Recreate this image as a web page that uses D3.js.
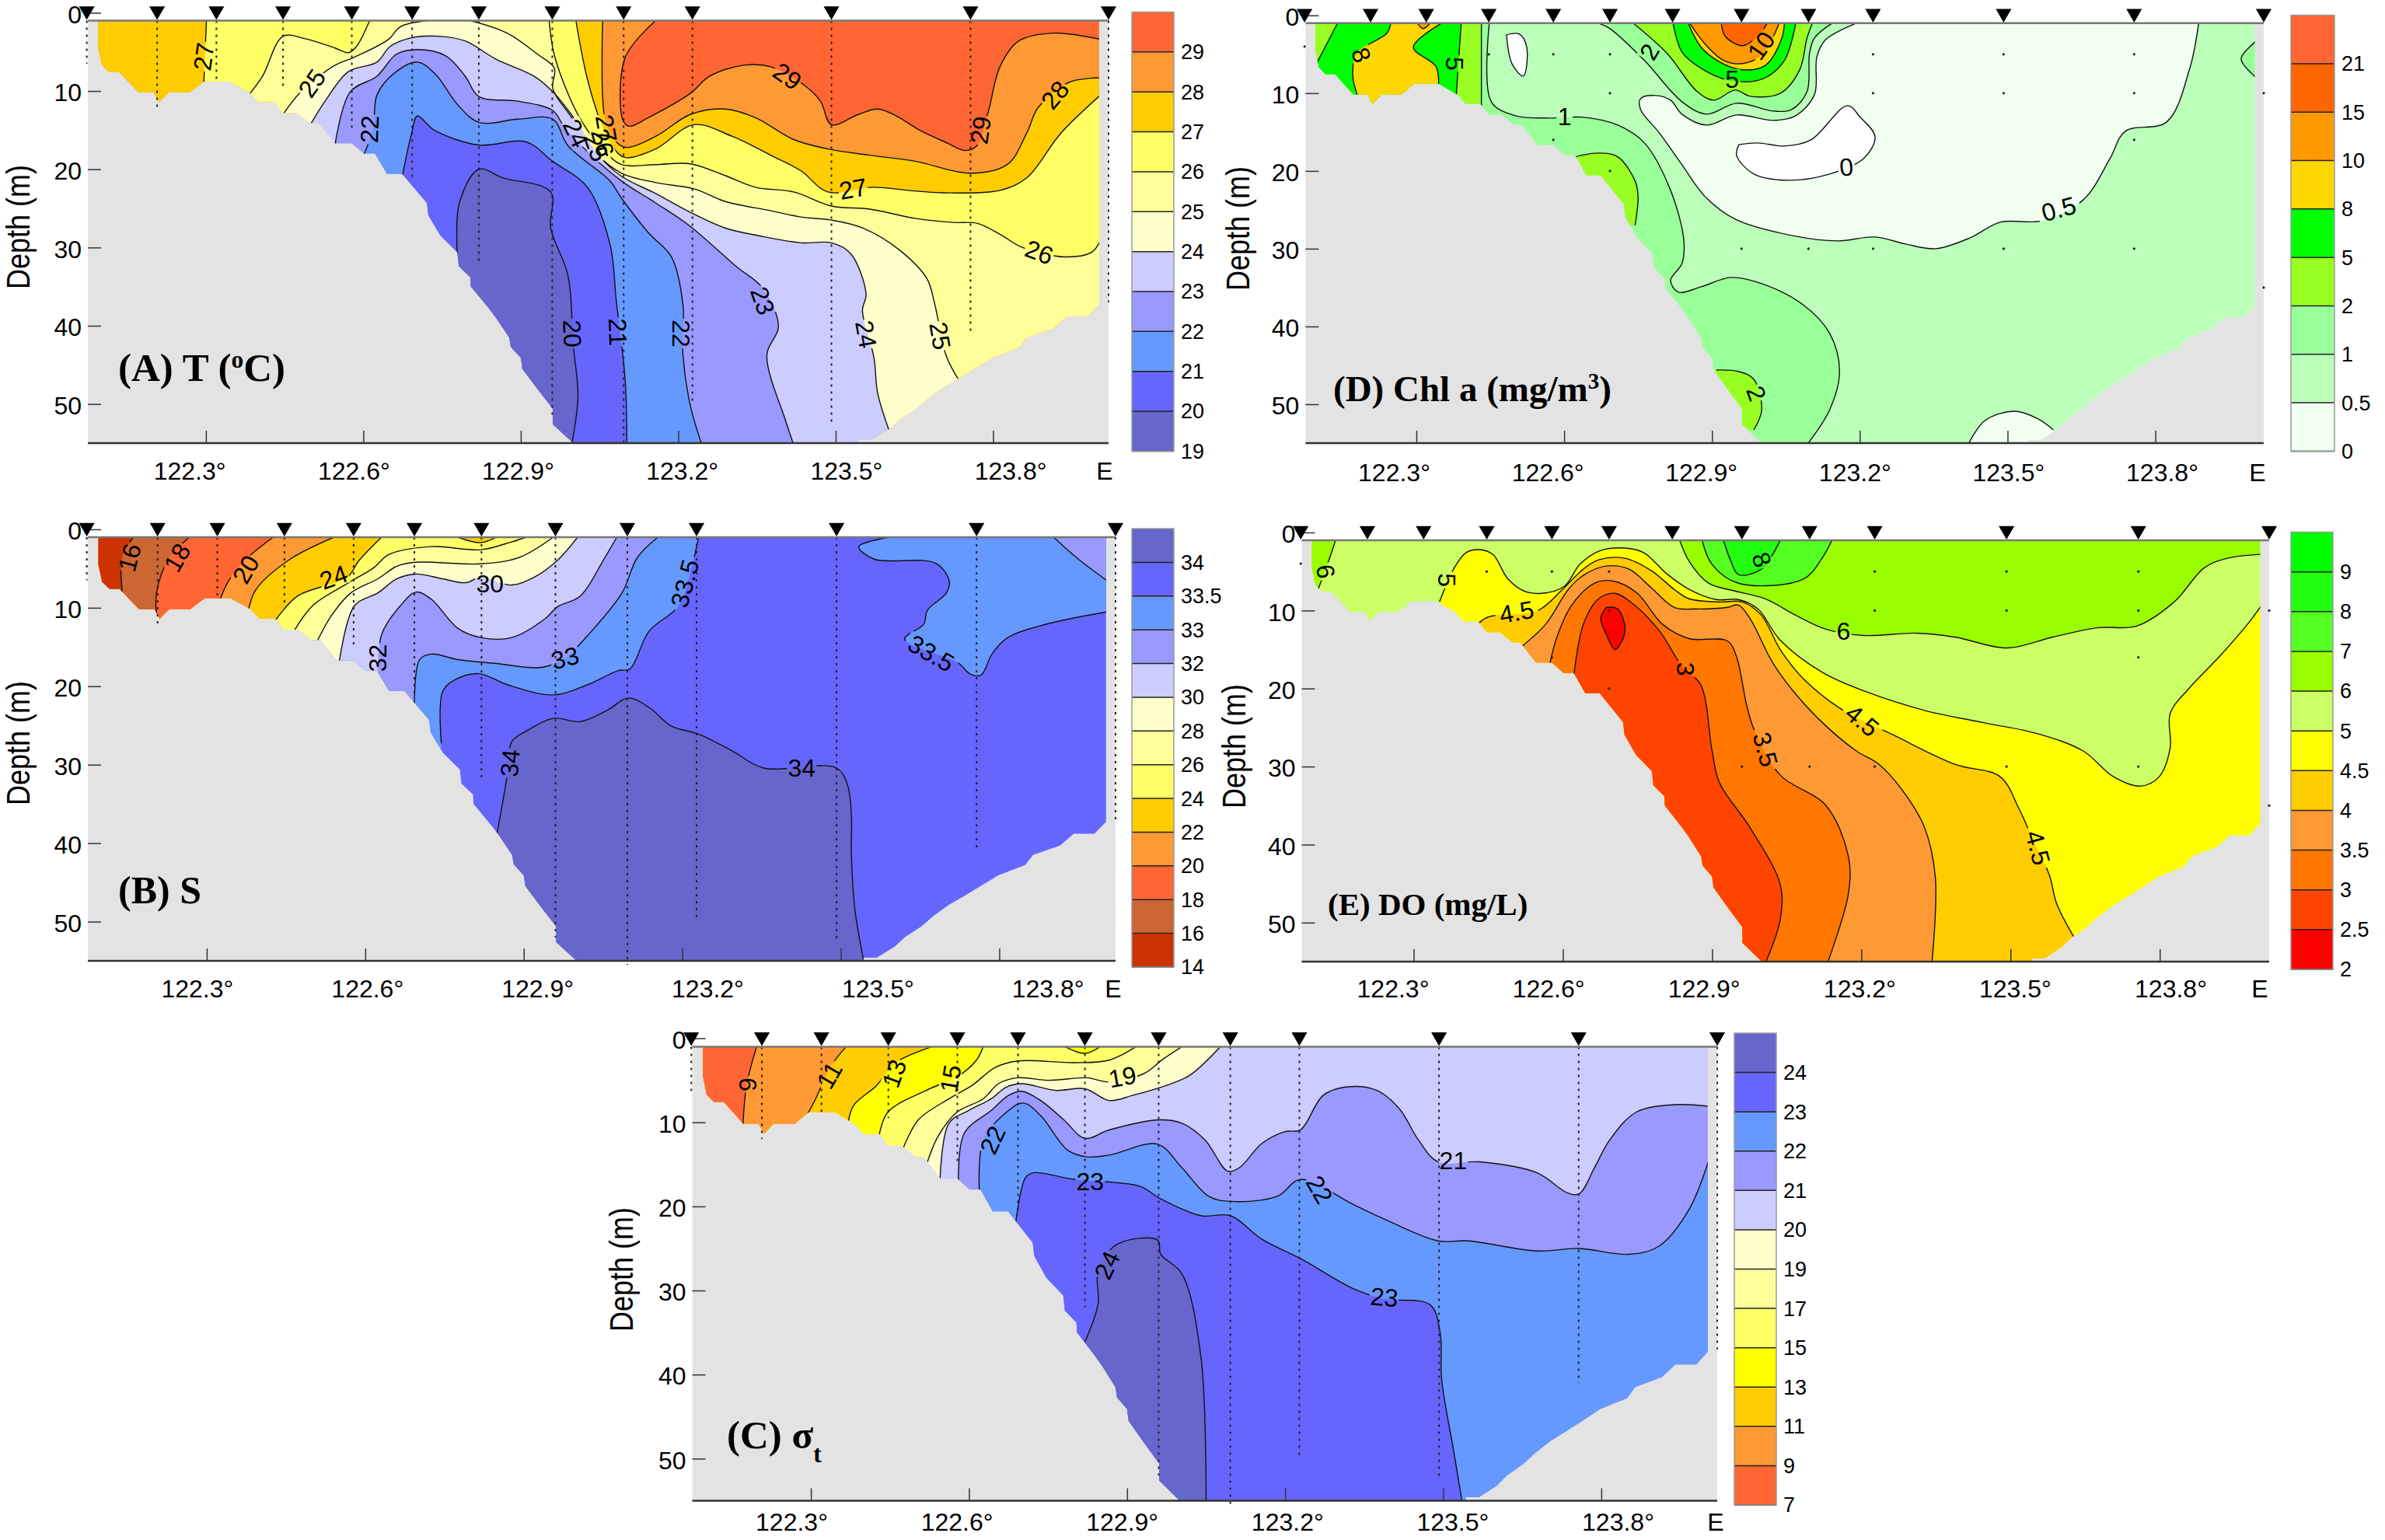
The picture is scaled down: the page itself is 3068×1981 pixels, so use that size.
<!DOCTYPE html>
<html>
<head>
<meta charset="utf-8">
<title>Section contours T S sigma-t Chl a DO</title>
<style>
  body { margin: 0; background: #fff; }
  text { font-family: "Liberation Sans", Arial, sans-serif; fill: #000; }
  text.panel-title { font-family: "Liberation Serif", serif; font-weight: bold; }
  .axis path.domain { display: none; }
  .axis line { stroke: #333; stroke-width: 1.5; }
</style>
<script src="https://d3js.org/d3.v7.min.js"></script>
</head>
<body>
<script>
// shared section geometry: longitude (deg E) and depth (m)
var stationLon = [122.073,122.207,122.320,122.447,122.578,122.693,122.820,122.960,123.096,123.227,123.492,123.757,124.020];
var stationBottom = [6.5,12,9,9.5,15,21,32,52,55.5,50,52.5,41,37];
var lonTicks = [122.3,122.6,122.9,123.2,123.5,123.8];
var depthTicks = [0,10,20,30,40,50];
var lonDomain = [122.075,124.02];
var seabed = [[122.095,1],[122.095,4.5],[122.102,6.7],[122.116,7.6],[122.135,7.6],[122.172,10.2],[122.201,10.2],[122.211,11.4],[122.229,10.2],[122.269,10.2],[122.296,8.8],[122.345,8.8],[122.383,10.2],[122.400,11.4],[122.430,11.4],[122.447,12.8],[122.473,12.8],[122.499,14.1],[122.514,14.1],[122.546,16.7],[122.578,16.7],[122.601,18],[122.622,18],[122.645,20.6],[122.674,20.6],[122.721,24.3],[122.724,25.9],[122.747,28.5],[122.779,30.6],[122.782,32.4],[122.804,33.8],[122.805,35],[122.837,37.6],[122.852,38.9],[122.878,41.5],[122.881,42.7],[122.900,44.1],[122.903,45.5],[122.932,48.1],[122.961,50.6],[122.961,52.6],[123,55],[123.543,55],[123.543,54.6],[123.568,54.6],[123.602,53.2],[123.621,52],[123.653,50.6],[123.675,49.3],[123.704,47.9],[123.737,46.6],[123.769,45.3],[123.798,44.1],[123.849,42.8],[123.864,41.5],[123.915,40.3],[123.941,38.8],[123.980,38.8],[124.002,37.3],[124.002,1]];
// bottle samples for the Chl a and DO sections: [station index, depth]
var samplePoints = [[0,4],[3,5],[4,5],[5,5],[9,5],[10,5],[11,5],[5,10],[9,10],[10,10],[11,10],[12,10],[4,16],[11,16],[5,20],[7,30],[8,30],[9,30],[10,30],[11,30],[12,35]];

// (A) temperature
var tLegend = ["29","28","27","26","25","24","23","22","21","20","19"];
var tColours = ["#FF6633","#FF9933","#FFCC00","#FFFF66","#FFFF99","#FFFFCC","#CCCCFF","#9999FF","#6699FF","#6666FF","#6666CC"];
var tIso29 = [[123.157,1],[123.099,5.7],[123.095,13.8],[123.107,14.5],[123.143,13.4],[123.223,10.3],[123.260,8.1],[123.325,6.7],[123.376,6.9],[123.441,9.3],[123.471,11.3],[123.492,14.3],[123.543,13],[123.580,12.3],[123.616,13.2],[123.660,15],[123.711,16.6],[123.747,17.6],[123.769,17],[123.791,12.6],[123.813,6.9],[123.849,3.6],[123.915,2.6],[124.005,3.4]];
var tIso28 = [[123.056,1],[123.060,13.4],[123.078,16.2],[123.099,17.2],[123.157,15.8],[123.223,13],[123.289,12.3],[123.347,13.4],[123.420,16.2],[123.485,17.4],[123.565,18.2],[123.653,19],[123.755,20.5],[123.827,19.4],[123.864,15.4],[123.886,12.1],[123.944,8.9],[124.005,8.3]];
var tIso27 = [[123.005,1],[123.027,8.5],[123.056,14.6],[123.078,17.4],[123.099,18.5],[123.157,17.4],[123.230,14.3],[123.303,15.8],[123.376,18.2],[123.434,20.2],[123.485,22.9],[123.572,22.3],[123.638,22.7],[123.704,23],[123.813,22.7],[123.864,21.1],[123.929,15.4],[124.005,10.5]];
var tIso27w = [[122.296,9],[122.301,1]];
var tIso26 = [[122.954,1],[122.965,5.7],[123.012,13.4],[123.056,17.4],[123.092,19.4],[123.157,19.4],[123.223,19.3],[123.289,20.8],[123.347,22.3],[123.420,22.9],[123.492,24.7],[123.565,25.1],[123.653,26.3],[123.725,26.8],[123.769,26.9],[123.813,28.3],[123.856,30],[123.937,31.2],[123.988,30.6],[124.005,29]];
var tIso26w = [[122.383,10.4],[122.408,8.1],[122.447,3],[122.488,3.3],[122.546,4.5],[122.572,5.1],[122.587,4.3],[122.612,1]];
var tIso25 = [[122.804,1],[122.874,2.6],[122.932,5.3],[122.964,7.1],[122.961,9.7],[122.997,13.4],[123.041,17.8],[123.092,20.5],[123.157,21.7],[123.230,22.5],[123.289,24.1],[123.376,25.3],[123.434,26.1],[123.492,26.5],[123.551,27.5],[123.623,30.4],[123.674,34],[123.689,37.3],[123.711,43.9],[123.737,47.2]];
var tIso25w = [[122.447,13],[122.481,10.1],[122.546,6.7],[122.582,5.7],[122.648,3.4],[122.670,1.8],[122.721,1]];
var tIso24 = [[122.499,14.3],[122.531,10.9],[122.572,7.5],[122.626,6.3],[122.651,4.3],[122.692,3.2],[122.743,3],[122.794,3.6],[122.852,5.9],[122.925,8.1],[122.961,10.1],[123.005,13.8],[123.048,18.2],[123.092,20.9],[123.157,23.1],[123.223,25.5],[123.289,27.5],[123.354,28.5],[123.434,29.4],[123.492,29.4],[123.529,30.8],[123.558,36],[123.551,38],[123.573,44.1],[123.580,48.6],[123.602,53.4]];
var tIso23 = [[122.546,16.9],[122.575,10.1],[122.626,8.1],[122.663,5.3],[122.703,4.7],[122.757,5.5],[122.794,8.1],[122.820,10.7],[122.895,11.3],[122.961,12.5],[122.983,14.6],[123.034,18.2],[123.092,21.5],[123.157,24.3],[123.223,27.3],[123.310,32.4],[123.361,35.2],[123.391,40.1],[123.369,43.7],[123.405,52.2],[123.420,55.2]];
var tIso22 = [[122.601,18.2],[122.619,14.6],[122.626,10.5],[122.663,7.5],[122.703,6.3],[122.738,7.9],[122.779,11.7],[122.820,14],[122.895,13.6],[122.961,13.6],[122.990,17],[123.070,21.5],[123.092,23.7],[123.143,28.1],[123.187,31.2],[123.209,37.3],[123.209,43.7],[123.223,50.2],[123.245,55.2]];
var tIso21 = [[122.674,21],[122.692,15.4],[122.703,13.2],[122.735,15],[122.820,16.9],[122.910,16.5],[122.961,19],[123.027,22.3],[123.070,29.6],[123.082,36.8],[123.099,47],[123.102,55.2]];
var tIso20 = [[122.779,30.8],[122.783,24.3],[122.820,20],[122.866,21.1],[122.957,22.9],[122.957,27.5],[122.990,33.6],[123,42.5],[123.009,49],[122.997,55.2]];
var tLabels = [[122.296,5.6,"27",-82],[122.502,9,"25",-55],[122.612,14.9,"22",-88],[123.408,8.1,"29",35],[123.776,15,"29",-82],[123.918,10.5,"28",-50],[123.533,22.5,"27",-10],[123.888,30.6,"26",20],[123.361,36.8,"23",70],[123.558,41.1,"24",80],[122.998,41,"20",88],[123.085,40.8,"21",88],[123.206,41,"22",90],[123.699,41.3,"25",80],[123.005,15.4,"24",65],[123.044,17.2,"25",70],[123.056,16.6,"26",75],[123.063,14.8,"27",80]];

// (B) salinity
var sLegend = ["34","33.5","33","32","30","28","26","24","22","20","18","16","14"];
var sColours = ["#6666CC","#6666FF","#6699FF","#9999FF","#CCCCFF","#FFFFCC","#FFFF99","#FFFF66","#FFCC00","#FF9933","#FF6633","#CC6633","#CC3300"];
var sIso16 = [[122.140,7.9],[122.140,3.6],[122.161,1]];
var sIso18 = [[122.205,11],[122.205,8.1],[122.226,4],[122.267,1]];
var sIso20 = [[122.325,9],[122.342,6.5],[122.378,3.6],[122.426,1]];
var sIso22 = [[122.379,10.3],[122.393,7.7],[122.458,3.8],[122.541,1]];
var sIso22patch = [[122.775,1],[122.819,1.7],[122.848,1]];
var sIso24 = [[122.429,11.7],[122.472,8.5],[122.566,6.1],[122.588,4],[122.631,1]];
var sIso26 = [[122.465,13],[122.501,9.7],[122.566,6.9],[122.616,4.9],[122.645,3.2],[122.725,2.2],[122.819,2.6],[122.877,1.6],[122.905,1]];
var sIso28 = [[122.508,14.4],[122.537,10.9],[122.573,8.1],[122.624,6.3],[122.660,4.7],[122.696,4.2],[122.819,4.4],[122.891,3.6],[122.956,1]];
var sIso30 = [[122.551,16.8],[122.580,9.7],[122.624,8.1],[122.660,6.3],[122.696,5.7],[122.746,6.3],[122.790,6.8],[122.819,6.1],[122.877,7.1],[122.920,6.1],[122.963,4],[123.002,1]];
var sIso32 = [[122.624,19.2],[122.631,13.4],[122.667,9.7],[122.696,8],[122.725,8.9],[122.775,12.6],[122.819,13.8],[122.877,13.8],[122.942,11.3],[122.963,9.9],[123.007,8.5],[123.050,4],[123.076,1]];
var sIso33 = [[122.693,22.5],[122.703,16.6],[122.725,15.9],[122.775,16.6],[122.848,17.1],[122.934,17.6],[122.978,16.4],[123.028,13],[123.086,8.1],[123.115,3.6],[123.154,1]];
var sIso33e = [[123.903,1],[123.946,3.6],[124.005,6.6]];
var sIso335 = [[122.744,27.3],[122.747,20.6],[122.775,19],[122.816,18.4],[122.869,19.8],[122.956,21.1],[123.021,19.8],[123.079,18],[123.101,17.8],[123.137,13],[123.194,9.7],[123.216,5.3],[123.231,1]];
var sIso335e = [[123.592,1],[123.534,2.2],[123.563,3.8],[123.679,4.3],[123.705,6.5],[123.700,8.1],[123.664,10.3],[123.657,12.1],[123.621,14],[123.722,17],[123.744,18.4],[123.765,18.6],[123.787,15.8],[123.816,13.8],[123.888,12.1],[124.005,10.5]];
var sIso34 = [[122.848,39.3],[122.869,31.2],[122.877,27.1],[122.905,25.7],[122.956,24.1],[123.007,24.5],[123.057,23.1],[123.098,21.5],[123.137,22.7],[123.180,25.1],[123.231,26.1],[123.296,28.3],[123.353,30.4],[123.491,30.4],[123.512,32.4],[123.520,36.4],[123.520,41.3],[123.527,48.6],[123.544,55.2]];
var sLabels = [[122.154,3.6,"16",-75],[122.244,3.6,"18",-60],[122.374,5.1,"20",-60],[122.540,6.1,"24",-20],[122.836,6.9,"30",0],[122.624,16.4,"32",-90],[122.978,16.4,"33",-15],[123.205,6.9,"33.5",-75],[123.671,15.8,"33.5",30],[122.874,29.8,"34",-85],[123.426,30.4,"34",0]];

// (C) sigma-t
var cLegend = ["24","23","22","21","20","19","17","15","13","11","9","7"];
var cColours = ["#6666CC","#6666FF","#6699FF","#9999FF","#CCCCFF","#FFFFCC","#FFFF99","#FFFF66","#FFFF00","#FFCC00","#FF9933","#FF6633"];
var cIso9 = [[122.171,10.3],[122.178,5.6],[122.197,1]];
var cIso11 = [[122.294,9],[122.309,7.2],[122.338,3.3],[122.367,1]];
var cIso13 = [[122.370,10.3],[122.381,8],[122.425,5.6],[122.461,2.9],[122.530,1]];
var cIso15 = [[122.429,11.7],[122.446,8.8],[122.526,6],[122.577,4.6],[122.613,2.7],[122.627,1]];
var cIso15patch = [[122.782,1],[122.820,1.8],[122.849,1]];
var cIso17 = [[122.475,13.1],[122.504,9.7],[122.562,7.2],[122.606,5.6],[122.649,3.5],[122.693,2.7],[122.801,2.9],[122.866,2.6],[122.917,1]];
var cIso19 = [[122.519,15.1],[122.541,11.7],[122.577,8.8],[122.627,7.2],[122.656,5.4],[122.693,4.7],[122.751,5],[122.823,4.7],[122.866,5.2],[122.932,4.2],[122.968,2.5],[123.004,1]];
var cIso20 = [[122.545,16.8],[122.562,10.1],[122.599,8.6],[122.642,7.2],[122.671,5.8],[122.700,5.4],[122.765,6.2],[122.820,6],[122.866,7.4],[122.910,6.8],[122.975,5.6],[123.019,4.4],[123.077,1]];
var cIso21 = [[122.580,17.6],[122.591,11.3],[122.642,8.6],[122.675,6.8],[122.700,6.3],[122.736,7.4],[122.780,9.7],[122.820,11.9],[122.866,10.9],[122.961,9.7],[123.004,10.1],[123.048,12.1],[123.091,15.8],[123.113,15.4],[123.156,12.5],[123.200,11.1],[123.229,10.9],[123.272,6.8],[123.316,5.8],[123.374,6.2],[123.417,8.4],[123.453,12.1],[123.490,14.7],[123.569,14.7],[123.678,16],[123.736,18.4],[123.758,18.5],[123.787,15.4],[123.816,12.1],[123.866,8.8],[123.939,7.9],[124.005,8.1]];
var cIso22 = [[122.620,19],[122.627,12.1],[122.671,8.8],[122.703,7.7],[122.736,9.2],[122.787,13.3],[122.823,14.1],[122.866,13.9],[122.958,12.6],[123.004,15.4],[123.055,18.8],[123.096,19.4],[123.185,18.8],[123.229,16.8],[123.330,19.8],[123.388,21.5],[123.490,24.1],[123.548,24.1],[123.678,25.3],[123.758,25],[123.852,25.7],[123.910,24.7],[123.968,20.2],[124.005,14.3]];
var cIso23 = [[122.688,22.3],[122.707,16.6],[122.722,16],[122.801,16.8],[122.924,17.6],[122.961,19],[123.040,21.1],[123.096,21.1],[123.156,23.9],[123.229,26.2],[123.330,29.8],[123.388,31],[123.475,31.7],[123.494,34.9],[123.497,40.6],[123.519,48.8],[123.536,55.2]];
var cIso24 = [[122.820,36.1],[122.845,31.6],[122.845,27.6],[122.881,24.5],[122.958,24],[122.964,25.7],[123.004,28],[123.040,37.8],[123.050,55.2]];
var cLabels = [[122.180,5.5,"9",-90],[122.335,4.4,"11",-60],[122.458,4.2,"13",-70],[122.565,4.8,"15",-80],[122.891,4.6,"19",-10],[122.645,12.1,"22",-65],[122.830,17,"23",0],[123.519,14.5,"21",0],[123.265,18,"22",60],[123.388,30.8,"23",5],[122.862,27,"24",-65]];

// (D) chlorophyll a
var dLegend = ["21","15","10","8","5","2","1","0.5","0"];
var dColours = ["#FF6633","#FF6600","#FF9900","#FFD700","#00FF00","#99FF22","#99FF99","#BBFFBB","#F0FFF0"];
var dIso05 = [[123.888,1],[123.869,7],[123.823,13.7],[123.739,14.9],[123.708,18.4],[123.654,23.7],[123.570,26.4],[123.485,26.6],[123.424,28.6],[123.354,30],[123.293,29.4],[123.231,28.5],[123.155,29],[123.070,28.4],[122.947,26.2],[122.886,23.3],[122.839,19.2],[122.793,15.1],[122.755,12.1],[122.755,10.7],[122.786,10.3],[122.816,10.9],[122.839,12.7],[122.889,14.1],[122.950,12.8],[123.024,13.5],[123.070,12.9],[123.108,10.2],[123.113,5.3],[123.131,3.1],[123.193,1]];
var dIso05s = [[123.420,55.2],[123.454,52.1],[123.516,50.9],[123.562,51.9],[123.593,53.3]];
var dIso0 = [[122.955,16.6],[122.993,16.4],[123.047,16.8],[123.101,16],[123.175,11.6],[123.201,13.1],[123.231,15.6],[123.208,18.4],[123.139,20.4],[123.055,21.2],[122.985,20.4],[122.950,18],[122.955,16.6]];
var dIso0n = [[122.483,2.5],[122.509,2.4],[122.524,4.1],[122.517,7.8],[122.494,6.2],[122.483,2.5]];
var dIso1 = [[122.448,1],[122.452,11.1],[122.501,12.9],[122.570,13.2],[122.640,13.1],[122.709,14.1],[122.763,16.4],[122.816,22.5],[122.843,29],[122.839,31.9],[122.816,34.1],[122.832,35.6],[122.878,34.9],[122.939,33.7],[123.001,34.5],[123.085,37.2],[123.139,40.9],[123.159,45.8],[123.139,50.7],[123.093,55.2]];
var dIso1n = [[122.670,1],[122.693,1.7],[122.763,5.8],[122.839,11.1],[122.889,12.7],[122.950,11.3],[123.024,12.3],[123.062,12.1],[123.093,9.8],[123.098,4.9],[123.108,2.9],[123.144,1]];
var dIso1e = [[124.005,3.3],[123.974,5.6],[124.005,8]];
var dIso2w = [[122.432,1],[122.432,11.7]];
var dIso2m = [[122.614,18.3],[122.670,17.7],[122.709,18.2],[122.744,21.3],[122.750,23.3],[122.744,27]];
var dIso2s = [[122.909,45.6],[122.955,45.8],[122.985,46.8],[123.001,50.7],[122.985,53.3]];
var dIso2n = [[122.740,1],[122.809,4.9],[122.870,9.8],[122.904,10.9],[122.947,9.6],[122.978,10.4],[123.039,10],[123.078,7],[123.093,2.9],[123.104,1]];
var dIso5a = [[122.140,1],[122.094,6.6]];
var dIso5b = [[122.381,10.2],[122.391,1]];
var dIso5n = [[122.821,1],[122.839,4.7],[122.878,6.8],[122.932,8.3],[123.001,8.2],[123.047,5.8],[123.070,1]];
var dIso8a = [[122.248,1],[122.240,2.3],[122.179,4.9],[122.171,7.8],[122.186,11.3]];
var dIso8b = [[122.345,8.9],[122.340,6.6],[122.294,4.1],[122.351,1]];
var dIso8n = [[122.852,1],[122.878,4.1],[122.916,6],[122.962,7],[123.009,6.4],[123.042,2.9],[123.047,1]];
var dIso10w = [[122.302,1],[122.314,1.7],[122.328,1]];
var dIso10 = [[122.855,1],[122.889,3.9],[122.924,5.8],[122.962,6.2],[123.001,5.1],[123.032,1.7],[123.036,1]];
var dIso15 = [[122.919,1],[122.927,2.7],[122.962,3.9],[122.993,2.7],[123.012,1]];
var dLabels = [[122.188,5.1,"8",70],[122.378,6.2,"5",90],[122.773,4.7,"2",-60],[122.941,8.2,"5",0],[123,3.9,"10",-55],[122.601,13,"1",0],[123.173,19.5,"0",-5],[123.604,24.9,"0.5",-15],[122.990,48.6,"2",70]];

// (E) dissolved oxygen
var eLegend = ["9","8","7","6","5","4.5","4","3.5","3","2.5","2"];
var eColours = ["#00FF00","#22FF11","#55FF22","#99FF00","#CCFF66","#FFFF00","#FFCC00","#FF9933","#FF7700","#FF4400","#FF0000"];
var eIso6w = [[122.108,7.3],[122.131,3.3],[122.143,1]];
var eIso6 = [[122.835,1],[122.854,3.7],[122.893,6.5],[122.946,7.5],[123.007,8.5],[123.068,10.6],[123.129,12.4],[123.205,13.2],[123.311,12.9],[123.388,13.4],[123.494,14.8],[123.585,13.4],[123.677,12.2],[123.753,12],[123.829,8.9],[123.890,4.5],[123.936,3.3],[124.005,2.8]];
var eIso7 = [[122.880,1],[122.900,4.1],[122.953,6.5],[123.083,6],[123.121,3.3],[123.141,1]];
var eIso8 = [[122.923,1],[122.938,3.7],[122.953,5.4],[122.999,4.7],[123.037,1]];
var eIso5 = [[122.352,8.9],[122.382,4.5],[122.405,2.6],[122.431,2.2],[122.459,2.8],[122.489,5.9],[122.522,7.5],[122.557,7.8],[122.603,6.9],[122.634,4.1],[122.672,2.4],[122.725,2],[122.763,2.6],[122.809,5.3],[122.854,7.3],[122.908,8.6],[122.953,8.6],[122.992,9.8],[123.037,13.8],[123.121,17.9],[123.205,20.3],[123.327,22.8],[123.448,24.4],[123.555,25.8],[123.646,28],[123.707,31.3],[123.761,32.5],[123.799,31.3],[123.821,27.6],[123.821,23.2],[123.860,19.9],[123.920,15.9],[123.981,11.4],[124.005,9.3]];
var eIso45 = [[122.431,11.6],[122.451,10.8],[122.550,10],[122.596,7.5],[122.641,4.7],[122.672,3.5],[122.725,3.3],[122.778,4.9],[122.824,7.3],[122.854,8.5],[122.915,8.9],[122.961,8.9],[122.999,10.6],[123.037,15],[123.083,18.7],[123.159,22.6],[123.266,26],[123.388,29.7],[123.479,31.3],[123.517,35.4],[123.548,39.8],[123.578,43.9],[123.593,47.6],[123.627,51.8]];
var eIso4 = [[122.504,15.3],[122.565,11.8],[122.611,7.3],[122.641,5.5],[122.687,4.3],[122.733,4.7],[122.778,7.1],[122.824,9.6],[122.870,9.8],[122.931,9.6],[122.953,9.3],[122.976,11],[123.022,16.7],[123.068,20.7],[123.129,24.8],[123.190,28],[123.235,29.7],[123.281,32.9],[123.327,37.8],[123.349,44.3],[123.342,55.2]];
var eIso35 = [[122.573,17.1],[122.588,13.4],[122.618,9.3],[122.664,6.5],[122.699,6.2],[122.748,7.7],[122.801,11.8],[122.854,13.6],[122.931,13.9],[122.949,15.9],[122.969,22],[122.984,25.2],[123.037,31.1],[123.129,35],[123.174,41.5],[123.174,46.3],[123.132,55.2]];
var eIso3 = [[122.621,18.9],[122.641,11.8],[122.672,8.5],[122.705,7.8],[122.740,9.1],[122.794,12.6],[122.839,17.1],[122.877,19.5],[122.900,28],[122.915,32.1],[122.976,37.8],[123.037,45.1],[123.037,49.6],[123.007,55.2]];
var eIso25 = [[122.687,9.6],[122.710,9.8],[122.725,12.6],[122.705,15],[122.687,13],[122.676,11],[122.687,9.6]];
var eLabels = [[122.123,5,"6",80],[122.367,6.1,"5",90],[122.507,10.2,"4.5",-10],[123,3.5,"8",70],[123.164,12.6,"6",0],[122.847,17.5,"3",90],[123.007,27.8,"3.5",75],[123.202,24.1,"4.5",40],[123.555,40.4,"4.5",75]];

// ring builders, the closing legs run outside the water clip
var farW = 121.9, farE = 124.2, sky = -5, deep = 60;
function last(a) { return a[a.length - 1]; }
function below(a) { return [a, [[last(a)[0], deep], [a[0][0], deep]]]; }
function above(a) { return [a, [[last(a)[0], sky], [a[0][0], sky]]]; }
function leftOf(a) { return [a, [[last(a)[0], sky], [farW, sky], [farW, deep], [a[0][0], deep]]]; }
function around(a) { return [a, [[last(a)[0], deep], [farW, deep], [farW, sky], [a[0][0], sky]]]; }
function rightTop(a) { return [a, [[farE, last(a)[1]], [farE, sky], [a[0][0], sky]]]; }
function between(a, b) { return [a, [[last(a)[0], deep], [b[0][0], deep]], b, [[last(b)[0], sky], [a[0][0], sky]]]; }
function closed(a) { return [a, []]; }
// patch leaning on the seabed, closed straight back through the ground
function onSeabed(a) { return [a, [[a[0][0] - 0.2, last(a)[1]], [a[0][0] - 0.2, a[0][1]]]]; }
function layer(colour, ring) { return {colour: colour, ring: ring}; }

var svg = d3.select("body").append("svg").attr("width", 3068).attr("height", 1981);

function drawPanel(p) {
  var x = d3.scaleLinear().domain(lonDomain).range([p.left, p.right]);
  var y = d3.scaleLinear().domain([1, 55]).range([p.top, p.bottom]);
  var g = svg.append("g");
  var pt = d3.line().x(function (d) { return x(d[0]); }).y(function (d) { return y(d[1]); });
  var smooth = d3.line().x(function (d) { return x(d[0]); }).y(function (d) { return y(d[1]); }).curve(d3.curveCatmullRom.alpha(0.5));

  g.append("rect").attr("x", p.left).attr("y", p.top).attr("width", p.right - p.left).attr("height", p.bottom - p.top).attr("fill", "#E3E3E3");

  var defs = g.append("defs");
  defs.append("clipPath").attr("id", "water" + p.id).append("path").attr("d", pt(seabed) + "Z");
  var mask = defs.append("mask").attr("id", "gaps" + p.id).attr("maskUnits", "userSpaceOnUse")
    .attr("x", 0).attr("y", 0).attr("width", 3068).attr("height", 1981);
  mask.append("rect").attr("width", 3068).attr("height", 1981).attr("fill", "#fff");
  p.labels.forEach(function (d) {
    var w = d[2].length * 17 + 4;
    mask.append("rect").attr("x", -w / 2).attr("y", -13).attr("width", w).attr("height", 26).attr("fill", "#000")
      .attr("transform", "translate(" + x(d[0]) + "," + y(d[1]) + ") rotate(" + d[3] + ")");
  });

  var fills = g.append("g").attr("clip-path", "url(#water" + p.id + ")");
  fills.append("rect").attr("x", p.left).attr("y", p.top).attr("width", p.right - p.left).attr("height", p.bottom - p.top).attr("fill", p.base);
  p.layers.forEach(function (l) {
    var d = "";
    l.ring.forEach(function (part, i) {
      if (i % 2 === 0) {
        var c = smooth(part);
        d += d === "" ? c : "L" + c.slice(1);
      } else {
        part.forEach(function (q) { d += "L" + x(q[0]) + "," + y(q[1]); });
      }
    });
    fills.append("path").attr("d", d + "Z").attr("fill", l.colour);
  });

  var lines = g.append("g").attr("clip-path", "url(#water" + p.id + ")").append("g").attr("mask", "url(#gaps" + p.id + ")");
  p.layers.forEach(function (l) {
    l.ring.forEach(function (part, i) {
      if (i % 2 === 0) lines.append("path").attr("d", smooth(part)).attr("fill", "none").attr("stroke", "#111").attr("stroke-width", 1.4);
    });
  });

  if (p.dotted) {
    g.selectAll(".cast").data(stationLon).enter().append("line")
      .attr("x1", function (d) { return x(d); }).attr("x2", function (d) { return x(d); })
      .attr("y1", p.top).attr("y2", function (d, i) { return y(stationBottom[i]); })
      .attr("stroke", "#222").attr("stroke-width", 2).attr("stroke-dasharray", "3,6");
  } else {
    g.selectAll(".sample").data(samplePoints).enter().append("circle")
      .attr("cx", function (d) { return x(stationLon[d[0]]); }).attr("cy", function (d) { return y(d[1]); })
      .attr("r", 1.6).attr("fill", "#222");
  }

  g.selectAll(".iso-label").data(p.labels).enter().append("text")
    .attr("font-size", 32).attr("text-anchor", "middle").attr("dy", "0.35em")
    .attr("transform", function (d) { return "translate(" + x(d[0]) + "," + y(d[1]) + ") rotate(" + d[3] + ")"; })
    .text(function (d) { return d[2]; });

  // axes, ticks point into the plot
  var ax = g.append("g").attr("class", "axis").attr("transform", "translate(0," + p.bottom + ")")
    .call(d3.axisBottom(x).tickValues(lonTicks).tickSize(-16).tickFormat(function (d) { return d.toFixed(1) + "°"; }));
  var labelX = d3.scaleLinear().domain([lonTicks[0], lonTicks[5]]).range(p.xLabels);
  ax.selectAll("text").attr("font-size", 32).attr("fill", "#000").attr("y", p.xLabelY - p.bottom).attr("dy", "0.35em")
    .attr("dx", function (d) { return labelX(d) - x(d); });
  g.append("text").attr("font-size", 32).attr("text-anchor", "middle").attr("x", p.eX).attr("y", p.xLabelY).attr("dy", "0.35em").text("E");

  var ay = g.append("g").attr("class", "axis").attr("transform", "translate(" + p.left + ",0)")
    .call(d3.axisLeft(y).tickValues(depthTicks).tickSize(-17).tickPadding(8));
  ay.selectAll("text").attr("font-size", 32).attr("fill", "#000").attr("dy", "0.4em");
  g.append("text").attr("font-size", 36).attr("text-anchor", "middle")
    .attr("transform", "translate(" + p.depthX + "," + p.depthY + ") scale(1.2,1) rotate(-90)").text("Depth (m)");

  g.append("line").attr("x1", p.left).attr("x2", p.right).attr("y1", p.top).attr("y2", p.top).attr("stroke", "#777").attr("stroke-width", 2.5);
  g.append("line").attr("x1", p.left).attr("x2", p.right).attr("y1", p.bottom).attr("y2", p.bottom).attr("stroke", "#333").attr("stroke-width", 2.5);

  g.selectAll(".station").data(stationLon).enter().append("path")
    .attr("d", d3.symbol().type(d3.symbolTriangle).size(175)())
    .attr("transform", function (d) { return "translate(" + x(d) + "," + (p.top - 12.5) + ") rotate(180)"; })
    .attr("fill", "#000");

  // colour bar, each label sits on the lower edge of its band
  var bar = d3.scaleBand().domain(p.legend).range([p.barTop, p.barBottom]);
  var cb = g.append("g");
  cb.selectAll("rect").data(p.legend).enter().append("rect")
    .attr("x", p.barLeft).attr("width", p.barRight - p.barLeft)
    .attr("y", function (d) { return bar(d); }).attr("height", bar.bandwidth())
    .attr("fill", function (d, i) { return p.colours[i]; });
  cb.selectAll("line").data(p.legend).enter().append("line")
    .attr("x1", p.barLeft).attr("x2", p.barRight)
    .attr("y1", function (d) { return bar(d) + bar.bandwidth(); }).attr("y2", function (d) { return bar(d) + bar.bandwidth(); })
    .attr("stroke", "#222").attr("stroke-width", 1.5);
  cb.append("rect").attr("x", p.barLeft).attr("y", p.barTop).attr("width", p.barRight - p.barLeft).attr("height", p.barBottom - p.barTop)
    .attr("fill", "none").attr("stroke", "#999").attr("stroke-width", 1.5);
  cb.selectAll("text").data(p.legend).enter().append("text")
    .attr("font-size", 27).attr("x", p.barRight + 9).attr("dy", "0.35em")
    .attr("y", function (d) { return bar(d) + bar.bandwidth(); })
    .text(function (d) { return d; });

  var title = g.append("text").attr("class", "panel-title").attr("font-size", p.titleSize).attr("x", p.titleX).attr("y", p.titleY);
  p.title.forEach(function (t) {
    title.append("tspan").attr("baseline-shift", t[1] || null).attr("font-size", t[1] ? p.titleSize * 0.62 : null).text(t[0]);
  });
}

drawPanel({id: "A", left: 113, right: 1426, top: 26.5, bottom: 570, base: tColours[0], dotted: true,
  layers: [
    layer(tColours[1], around(tIso29)), layer(tColours[2], around(tIso28)),
    layer(tColours[3], between(tIso27, tIso27w)), layer(tColours[4], between(tIso26, tIso26w)),
    layer(tColours[5], between(tIso25, tIso25w)), layer(tColours[6], below(tIso24)),
    layer(tColours[7], below(tIso23)), layer(tColours[8], below(tIso22)),
    layer(tColours[9], below(tIso21)), layer(tColours[10], below(tIso20))],
  labels: tLabels, legend: tLegend, colours: tColours,
  barLeft: 1456, barRight: 1510, barTop: 15.5, barBottom: 580.4,
  xLabels: [243.6, 1299.6], xLabelY: 606, eX: 1421, depthX: 38, depthY: 292,
  title: [["(A) T ("], ["o", "super"], ["C)"]], titleSize: 51, titleX: 152, titleY: 490});

drawPanel({id: "B", left: 113, right: 1435, top: 691, bottom: 1236, base: sColours[1], dotted: true,
  layers: [
    layer(sColours[2], leftOf(sIso335)), layer(sColours[2], rightTop(sIso335e)),
    layer(sColours[3], leftOf(sIso33)), layer(sColours[3], rightTop(sIso33e)),
    layer(sColours[4], leftOf(sIso32)), layer(sColours[5], leftOf(sIso30)),
    layer(sColours[6], leftOf(sIso28)), layer(sColours[7], leftOf(sIso26)),
    layer(sColours[8], above(sIso22patch)), layer(sColours[8], leftOf(sIso24)),
    layer(sColours[9], leftOf(sIso22)), layer(sColours[10], leftOf(sIso20)),
    layer(sColours[11], leftOf(sIso18)), layer(sColours[12], leftOf(sIso16)),
    layer(sColours[0], below(sIso34))],
  labels: sLabels, legend: sLegend, colours: sColours,
  barLeft: 1456, barRight: 1510, barTop: 680, barBottom: 1244,
  xLabels: [253.4, 1347.7], xLabelY: 1272, eX: 1432, depthX: 38, depthY: 956,
  title: [["(B) S"]], titleSize: 50, titleX: 152, titleY: 1162});

drawPanel({id: "C", left: 890.6, right: 2209, top: 1346.4, bottom: 1930.4, base: cColours[4], dotted: true,
  layers: [
    layer(cColours[3], below(cIso21)), layer(cColours[2], below(cIso22)),
    layer(cColours[1], below(cIso23)), layer(cColours[0], below(cIso24)),
    layer(cColours[5], leftOf(cIso20)), layer(cColours[6], leftOf(cIso19)),
    layer(cColours[7], leftOf(cIso17)), layer(cColours[8], above(cIso15patch)),
    layer(cColours[8], leftOf(cIso15)), layer(cColours[9], leftOf(cIso13)),
    layer(cColours[10], leftOf(cIso11)), layer(cColours[11], leftOf(cIso9))],
  labels: cLabels, legend: cLegend, colours: cColours,
  barLeft: 2231, barRight: 2285, barTop: 1329, barBottom: 1936,
  xLabels: [1018, 2081], xLabelY: 1958, eX: 2207, depthX: 814, depthY: 1633,
  title: [["(C) σ"], ["t", "sub"]], titleSize: 51, titleX: 935, titleY: 1863});

drawPanel({id: "D", left: 1679.4, right: 2912, top: 29.8, bottom: 570, base: dColours[7], dotted: false,
  layers: [
    layer(dColours[8], above(dIso05)), layer(dColours[8], below(dIso05s)),
    layer("#FFFFFF", closed(dIso0)), layer("#FFFFFF", closed(dIso0n)),
    layer(dColours[6], around(dIso1)), layer(dColours[6], above(dIso1n)),
    layer(dColours[6], rightTop(dIso1e)), layer(dColours[5], around(dIso2w)),
    layer(dColours[5], onSeabed(dIso2m)), layer(dColours[5], onSeabed(dIso2s)),
    layer(dColours[5], above(dIso2n)), layer(dColours[4], between(dIso5a, dIso5b)),
    layer(dColours[4], above(dIso5n)), layer(dColours[3], between(dIso8a, dIso8b)),
    layer(dColours[3], above(dIso8n)), layer(dColours[2], above(dIso10w)),
    layer(dColours[2], above(dIso10)), layer(dColours[1], above(dIso15))],
  labels: dLabels, legend: dLegend, colours: dColours,
  barLeft: 2947, barRight: 3003, barTop: 19.6, barBottom: 580.4,
  xLabels: [1793, 2781], xLabelY: 608, eX: 2904, depthX: 1607, depthY: 294,
  title: [["(D) Chl a (mg/m"], ["3", "super"], [")"]], titleSize: 47, titleX: 1715, titleY: 516});

drawPanel({id: "E", left: 1674.5, right: 2919, top: 695, bottom: 1237, base: eColours[4], dotted: false,
  layers: [
    layer(eColours[3], leftOf(eIso6w)), layer(eColours[3], above(eIso6)),
    layer(eColours[2], above(eIso7)), layer(eColours[1], above(eIso8)),
    layer(eColours[5], below(eIso5)), layer(eColours[6], below(eIso45)),
    layer(eColours[7], below(eIso4)), layer(eColours[8], below(eIso35)),
    layer(eColours[9], below(eIso3)), layer(eColours[10], closed(eIso25))],
  labels: eLabels, legend: eLegend, colours: eColours,
  barLeft: 2947, barRight: 3001, barTop: 684.5, barBottom: 1247,
  xLabels: [1791.5, 2792], xLabelY: 1272, eX: 2907, depthX: 1602, depthY: 960,
  title: [["(E) DO (mg/L)"]], titleSize: 41, titleX: 1708, titleY: 1177});
</script>
</body>
</html>
